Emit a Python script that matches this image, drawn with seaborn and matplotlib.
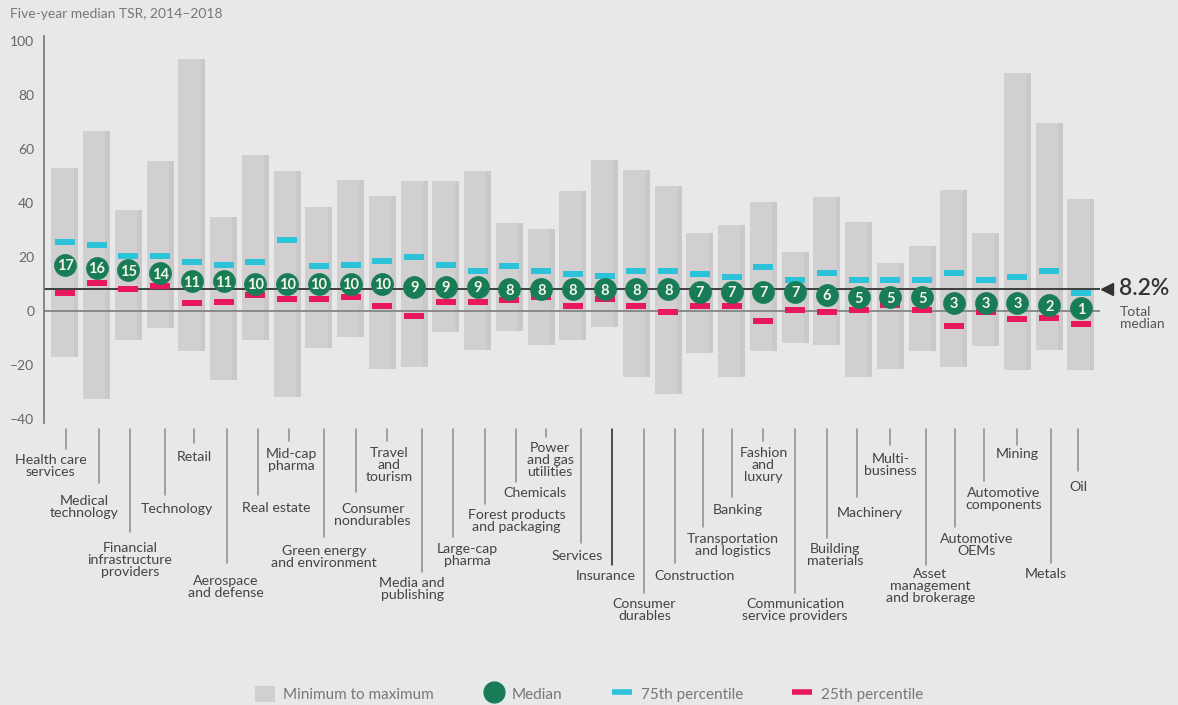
import numpy as np
import pandas as pd
import matplotlib.pyplot as plt
import seaborn as sns
from matplotlib.path import Path
from matplotlib.patches import Patch
from matplotlib.lines import Line2D

# --- data (five-year TSR, %) ---
categories = [
    "Health care\nservices", "Medical\ntechnology", "Financial\ninfrastructure\nproviders",
    "Technology", "Retail", "Aerospace\nand defense", "Real estate", "Mid-cap\npharma",
    "Green energy\nand environment", "Consumer\nnondurables", "Travel\nand\ntourism",
    "Media and\npublishing", "Large-cap\npharma", "Forest products\nand packaging",
    "Chemicals", "Power\nand gas\nutilities", "Services", "Insurance",
    "Consumer\ndurables", "Construction", "Transportation\nand logistics", "Banking",
    "Fashion\nand\nluxury", "Communication\nservice providers", "Building\nmaterials",
    "Machinery", "Multi-\nbusiness", "Asset\nmanagement\nand brokerage", "Automotive\nOEMs",
    "Automotive\ncomponents", "Mining", "Metals", "Oil",
]
median_tsr = [17, 16, 15, 14, 11, 11, 10, 10, 10, 10, 10, 9, 9, 9, 8, 8, 8, 8, 8, 8,
              7, 7, 7, 7, 6, 5, 5, 5, 3, 3, 3, 2, 1]
max_tsr = [53.0, 66.6, 37.4, 55.7, 93.4, 34.9, 57.8, 51.7, 38.5, 48.5, 42.4,
           48.3, 48.3, 51.9, 32.6, 30.2, 44.6, 55.8, 52.2, 46.2, 29.0, 31.8, 40.2,
           21.8, 42.2, 32.9, 17.7, 24.1, 44.9, 29.0, 88.3, 69.8, 41.5]
min_tsr = [-17.0, -32.8, -10.9, -6.4, -14.9, -25.7, -10.9, -31.8, -13.9, -9.7, -21.7,
           -20.7, -7.7, -14.6, -7.3, -12.5, -10.9, -6.1, -24.5, -30.9, -15.7, -24.5, -14.9,
           -12.1, -12.5, -24.5, -21.7, -14.9, -20.9, -13.2, -22.0, -14.5, -22.0]
p75_tsr = [25.5, 24.3, 20.5, 20.5, 18.2, 17.1, 18.2, 26.1, 16.5, 17.1, 18.3,
           20.1, 17.1, 14.9, 16.5, 14.9, 13.6, 12.9, 14.9, 14.9, 13.6, 12.5, 16.1,
           11.6, 14.1, 11.6, 11.3, 11.3, 14.1, 11.3, 12.5, 14.9, 6.8]
p25_tsr = [6.8, 10.5, 8.0, 9.2, 2.8, 3.2, 5.7, 4.5, 4.5, 5.3, 1.7,
           -2.0, 3.2, 3.2, 4.1, 5.2, 1.7, 4.5, 1.7, -0.4, 1.7, 1.7, -3.7,
           0.4, -0.4, 0.4, 2.0, 0.4, -5.6, -0.4, -3.2, -2.6, -4.9]
total_median = 8.2
y_ticks = [-40, -20, 0, 20, 40, 60, 80, 100]

# --- layout of the staggered category labels (pixels) ---
label_line_end = [449, 483, 532, 495, 443, 563, 495, 441, 537, 492, 441, 572, 537, 504,
                  482, 437, 543, 565, 593, 563, 527, 497, 441, 593, 538, 497, 445, 565,
                  527, 481, 445, 563, 471]
label_text_top = [452, 493, 540, 501, 449, 573, 500, 446, 543, 501, 445, 575, 541, 507,
                  485, 440, 548, 568, 596, 568, 531, 502, 445, 596, 541, 505, 451, 566,
                  531, 485, 446, 566, 479]
label_line_dx = [1, 2, 1.5, 4.4, 2.4, 3, 3, 2, 5, 5, 5, 8, 7, 7.5, 7, 5, 8, 7.5, 8, 7,
                 3, 0, 0, 0, 0, -1.5, 0, 3.7, 1, -1.5, 0, 2, -2.5]
label_text_dx = [-14.5, -12.5, 1.5, 16.5, 2.4, 2, 21, 4, 5, 22, 7, -2, 21, 39, 25, 9, 4,
                 1, 8, 26, 32.6, 6.5, 0, 0, 8, 11, 0, 8, 22.6, 18, 0, -3, -2.5]

BG = "#e7e8ea"
BAR = "#d1cfd0"
BAR_EDGE = "#cac8c9"
GREEN = "#187c57"
CYAN = "#2bc2da"
RED = "#e8195b"
W, H = 1178, 705

sns.set_theme(style="white")
plt.rcParams["font.family"] = ["Lato", "DejaVu Sans"]

df = pd.DataFrame({
    "x": np.arange(len(categories)),
    "lo": min_tsr, "hi": max_tsr,
    "median": median_tsr, "p75": p75_tsr, "p25": p25_tsr,
})
n = len(df)

fig = plt.figure(figsize=(W / 100, H / 100), dpi=100, facecolor=BG)
ax = fig.add_axes([44 / W, 1 - 422.8 / H, (1100 - 44) / W, (422.8 - 35.7) / H])
ax.set_facecolor(BG)
ax.set_xlim(-0.66, n - 1 + 0.6)
ax.set_ylim(-41.5, 102)

# min-to-max range bars, with the slightly darker right-hand strip
bw, sw = 0.85, 0.15
ax.bar(df.x, df.hi - df.lo, bottom=df.lo, width=bw, color=BAR, linewidth=0, zorder=1)
ax.bar(df.x + bw / 2 - sw / 2, df.hi - df.lo, bottom=df.lo, width=sw, color=BAR_EDGE,
       linewidth=0, zorder=1)

ax.axhline(0, color="#8a8a8a", lw=1.4, zorder=2)
ax.axhline(total_median, color="#333333", lw=1.3, zorder=2)

# percentile dashes
dash = Path([(-1, -0.32), (1, -0.32), (1, 0.32), (-1, 0.32), (-1, -0.32)], closed=True)
sns.scatterplot(data=df, x="x", y="p75", marker=dash, s=190, color=CYAN, linewidth=0,
                legend=False, ax=ax, zorder=3)
sns.scatterplot(data=df, x="x", y="p25", marker=dash, s=190, color=RED, linewidth=0,
                legend=False, ax=ax, zorder=3)

# medians
sns.scatterplot(data=df, x="x", y="median", s=250, color=GREEN, edgecolor=GREEN,
                linewidth=0.5, legend=False, ax=ax, zorder=4)
for xi, m in zip(df.x, df["median"]):
    ax.text(xi, m, str(m), ha="center", va="center_baseline", color="#f4f4ea",
            fontsize=10.5, fontweight="bold", zorder=5)

# total median marker
xr = n - 1 + 0.6
ax.plot([xr + 0.22], [total_median], marker="<", ms=8, color="#333333", clip_on=False)
ax.annotate("8.2%", xy=(xr, total_median), xytext=(19, 0), textcoords="offset pixels",
            ha="left", va="center", fontsize=16.5, fontweight="semibold", color="#333333")
ax.annotate("Total\nmedian", xy=(xr, total_median), xytext=(20, -17),
            textcoords="offset pixels", ha="left", va="top", fontsize=10,
            color="#555555", linespacing=1.05)

# axes styling
sns.despine(ax=ax, bottom=True)
ax.spines["left"].set_color("#777777")
ax.spines["left"].set_linewidth(1.2)
ax.set_xticks([])
ax.set_yticks(y_ticks)
ax.set_yticklabels([f"\u2013{-v}" if v < 0 else str(v) for v in y_ticks])
ax.tick_params(axis="y", length=0, pad=7, labelsize=10, labelcolor="#666666")
ax.set_xlabel("")
ax.set_ylabel("")

fig.text(10 / W, 1 - 14 / H, "Five-year median TSR, 2014\u20132018", ha="left",
         va="center", fontsize=10, color="#777777")

# staggered category labels with leader lines
for i, lab in enumerate(categories):
    cx = ax.transData.transform((i, 0))[0]
    lx = (cx + label_line_dx[i]) / W
    lc = "#222222" if lab == "Insurance" else "#8c8c8c"
    fig.add_artist(Line2D([lx, lx], [1 - 429 / H, 1 - label_line_end[i] / H],
                          transform=fig.transFigure, color=lc, lw=1.1))
    fig.text((cx + label_text_dx[i]) / W, 1 - (label_text_top[i] + 2) / H, lab,
             ha="center", va="top", multialignment="center", fontsize=10.2,
             color="#444444", linespacing=0.98)

handles = [
    Patch(facecolor=BAR, edgecolor="none", label="Minimum to maximum"),
    Line2D([], [], marker="o", linestyle="none", ms=15, mfc=GREEN, mec=GREEN, label="Median"),
    Line2D([], [], color=CYAN, lw=4, solid_capstyle="butt", label="75th percentile"),
    Line2D([], [], color=RED, lw=4, solid_capstyle="butt", label="25th percentile"),
]
fig.legend(handles=handles, loc="center", bbox_to_anchor=(0.5, 1 - 694 / H), ncol=4,
           frameon=False, fontsize=11, labelcolor="#777777", handlelength=1.3,
           handleheight=1.3, handletextpad=0.55, columnspacing=3.25)

fig.savefig("out.png", dpi=100, facecolor=BG)
